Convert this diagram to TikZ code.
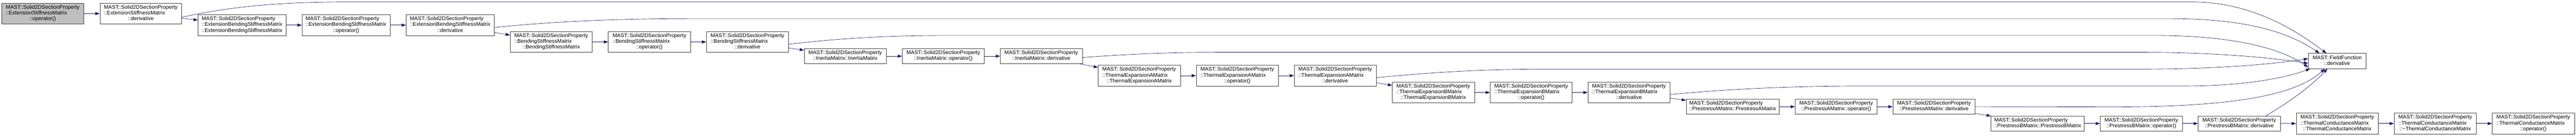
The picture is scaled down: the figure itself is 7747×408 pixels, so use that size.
\documentclass[tikz,border=0pt]{standalone}
\usepackage{fontspec}
\setmainfont{Liberation Sans}
\usetikzlibrary{arrows.meta}

\newcommand{\memberthree}[2]{\begin{tabular}{@{}l@{}}MAST::Solid2DSectionProperty\\#1\\\multicolumn{1}{@{}c@{}}{#2}\end{tabular}}
\newcommand{\membertwo}[1]{\begin{tabular}{@{}l@{}}MAST::Solid2DSectionProperty\\\multicolumn{1}{@{}c@{}}{#1}\end{tabular}}

\begin{document}
\begin{tikzpicture}[x=1pt,y=1pt,yscale=-1,xscale=1,
  fnbox/.style={draw={rgb, 255:red, 64; green, 64; blue, 64 }, line width=1pt, fill=white, anchor=north west, inner sep=0pt, minimum width=247pt, minimum height=62.7pt, font=\fontsize{16}{17.3}\selectfont},
  fnshort/.style={fnbox, minimum height=45.4pt},
  callarrow/.style={draw={rgb, 255:red, 25; green, 25; blue, 112 }, line width=1pt, -{Triangle[length=13pt,width=9pt]}}]
\useasboundingbox (0,0) rectangle (7747,408);

% Text Node
\node [fnbox, fill={rgb, 255:red, 191; green, 191; blue, 191 }] (n1) at (4.5,9) {\memberthree{::ExtensionStiffnessMatrix}{::operator()}};
% Text Node
\node [fnbox, minimum width=246pt] (n2) at (300,9) {\memberthree{::ExtensionStiffnessMatrix}{::derivative}};
% Text Node
\node [fnbox, minimum width=265pt] (n3) at (595,43.7) {\memberthree{::ExtensionBendingStiffnessMatrix}{::ExtensionBendingStiffnessMatrix}};
% Text Node
\node [fnbox, minimum width=265pt] (n4) at (907.6,43.7) {\memberthree{::ExtensionBendingStiffnessMatrix}{::operator()}};
% Text Node
\node [fnbox, minimum width=265pt] (n5) at (1221,43.7) {\memberthree{::ExtensionBendingStiffnessMatrix}{::derivative}};
% Text Node
\node [fnbox] (n6) at (1534,94.3) {\memberthree{::BendingStiffnessMatrix}{::BendingStiffnessMatrix}};
% Text Node
\node [fnbox] (n7) at (1829,94.3) {\memberthree{::BendingStiffnessMatrix}{::operator()}};
% Text Node
\node [fnbox] (n8) at (2124,94.3) {\memberthree{::BendingStiffnessMatrix}{::derivative}};
% Text Node
\node [fnshort] (n9) at (2418,145.7) {\membertwo{::InertiaMatrix::InertiaMatrix}};
% Text Node
\node [fnshort] (n10) at (2713,145.7) {\membertwo{::InertiaMatrix::operator()}};
% Text Node
\node [fnshort] (n11) at (3007.6,145.7) {\membertwo{::InertiaMatrix::derivative}};
% Text Node
\node [fnbox] (n12) at (3302,195.7) {\memberthree{::ThermalExpansionAMatrix}{::ThermalExpansionAMatrix}};
% Text Node
\node [fnbox] (n13) at (3597,195.7) {\memberthree{::ThermalExpansionAMatrix}{::operator()}};
% Text Node
\node [fnbox] (n14) at (3891.5,195.7) {\memberthree{::ThermalExpansionAMatrix}{::derivative}};
% Text Node
\node [fnbox] (n15) at (4186.6,246.3) {\memberthree{::ThermalExpansionBMatrix}{::ThermalExpansionBMatrix}};
% Text Node
\node [fnbox] (n16) at (4480.8,246.3) {\memberthree{::ThermalExpansionBMatrix}{::operator()}};
% Text Node
\node [fnbox] (n17) at (4775,246.3) {\memberthree{::ThermalExpansionBMatrix}{::derivative}};
% Text Node
\node [fnshort, minimum width=280pt] (n18) at (5070.5,297.7) {\membertwo{::PrestressAMatrix::PrestressAMatrix}};
% Text Node
\node [fnshort] (n19) at (5398,297.7) {\membertwo{::PrestressAMatrix::operator()}};
% Text Node
\node [fnshort] (n20) at (5692,297.7) {\membertwo{::PrestressAMatrix::derivative}};
% Text Node
\node [fnshort, minimum width=280.5pt] (n21) at (5987.5,348.3) {\membertwo{::PrestressBMatrix::PrestressBMatrix}};
% Text Node
\node [fnshort] (n22) at (6315.6,348.3) {\membertwo{::PrestressBMatrix::operator()}};
% Text Node
\node [fnshort] (n23) at (6610,348.3) {\membertwo{::PrestressBMatrix::derivative}};
% Text Node
\node [fnbox] (n24) at (6905,339.7) {\memberthree{::ThermalConductanceMatrix}{::ThermalConductanceMatrix}};
% Text Node
\node [fnbox] (n25) at (7199.6,339.7) {\memberthree{::ThermalConductanceMatrix}{::\textasciitilde ThermalConductanceMatrix}};
% Text Node
\node [fnbox] (n26) at (7494.5,339.7) {\memberthree{::ThermalConductanceMatrix}{::operator()}};
% Text Node
\node [fnshort, minimum width=173.3pt] (ff) at (6941.5,160.3) {\begin{tabular}{@{}l@{}}MAST::FieldFunction\\\multicolumn{1}{@{}c@{}}{::derivative}\end{tabular}};

%Straight Lines
\draw [callarrow] (n1) -- (n2);
\draw [callarrow] (n2) -- (n3);
\draw [callarrow] (n3) -- (n4);
\draw [callarrow] (n4) -- (n5);
\draw [callarrow] (n5) -- (n6);
\draw [callarrow] (n6) -- (n7);
\draw [callarrow] (n7) -- (n8);
\draw [callarrow] (n8) -- (n9);
\draw [callarrow] (n9) -- (n10);
\draw [callarrow] (n10) -- (n11);
\draw [callarrow] (n11) -- (n12);
\draw [callarrow] (n12) -- (n13);
\draw [callarrow] (n13) -- (n14);
\draw [callarrow] (n14) -- (n15);
\draw [callarrow] (n15) -- (n16);
\draw [callarrow] (n16) -- (n17);
\draw [callarrow] (n17) -- (n18);
\draw [callarrow] (n18) -- (n19);
\draw [callarrow] (n19) -- (n20);
\draw [callarrow] (n20) -- (n21);
\draw [callarrow] (n21) -- (n22);
\draw [callarrow] (n22) -- (n23);
\draw [callarrow] (n23) -- (n24);
\draw [callarrow] (n24) -- (n25);
\draw [callarrow] (n25) -- (n26);

%Curve Lines
\draw [callarrow] ([yshift=11pt]n2.east) .. controls (700,18) and (850,6) .. (1050,5.7) -- (6590,5.7) .. controls (6760,5.7) and (6890,80) .. ([xshift=55pt]ff.north west);
%Curve Lines
\draw [callarrow] ([yshift=7pt]n5.east) .. controls (1700,61) and (1900,56) .. (2100,56) -- (6523,56) .. controls (6750,56) and (6880,95) .. ([xshift=34pt]ff.north west);
%Curve Lines
\draw [callarrow] ([yshift=7pt]n8.east) .. controls (2550,112) and (2700,106.7) .. (2850,106.7) -- (6478,106.7) .. controls (6700,106.7) and (6850,140) .. ([yshift=18.5pt]ff.west);
%Curve Lines
\draw [callarrow] ([yshift=4pt]n11.east) .. controls (3450,159) and (3550,157.3) .. (3700,157.3) -- (6434,157.3) .. controls (6650,157.3) and (6820,172) .. ([yshift=7pt]ff.west);
%Curve Lines
\draw [callarrow] ([yshift=6pt]n14.east) .. controls (4350,213) and (4500,208) .. (4650,208) -- (6434,208) .. controls (6650,208) and (6820,195) .. ([yshift=-7pt]ff.west);
%Curve Lines
\draw [callarrow] ([yshift=6pt]n17.east) .. controls (5250,263) and (5450,258.7) .. (5600,258.7) -- (6568,258.7) .. controls (6750,258.7) and (6870,235) .. ([xshift=6pt]ff.south west);
%Curve Lines
\draw [callarrow] (n20.east) -- (6350,321.7) .. controls (6700,321.7) and (6900,290) .. ([xshift=50pt]ff.south west);
%Curve Lines
\draw [callarrow] ([xshift=80pt]n23.north) .. controls (6880,310) and (6950,260) .. ([xshift=58pt]ff.south west);

\end{tikzpicture}
\end{document}
